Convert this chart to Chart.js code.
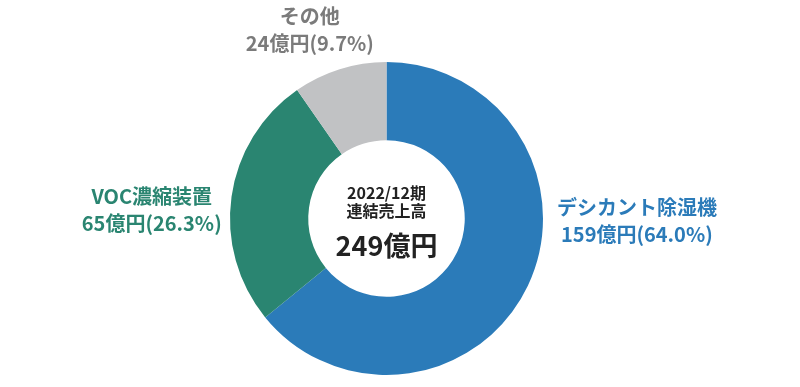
<!DOCTYPE html>
<html>
<head>
<meta charset="utf-8">
<script src="https://cdn.jsdelivr.net/npm/chart.js@4"></script>
<style>
  body { margin: 0; background: #fff; }
  #wrap { width: 800px; height: 387px; position: relative; }
</style>
</head>
<body>
<div id="wrap"><canvas id="salesChart"></canvas></div>
<script>
// 2022/12期 連結売上高 (億円)
const segments = ["デシカント除湿機", "VOC濃縮装置", "その他"];
const amounts = [159, 65, 24];
const shares = ["64.0", "26.3", "9.7"];
const colors = ["#2b7bb9", "#2a8571", "#c1c2c4"];
const labelColors = ["#2b7bb9", "#2a8571", "#7b7b7b"];
const totalLabel = ["2022/12期", "連結売上高", "249億円"];

const FONT = "'Noto Sans CJK JP', 'Noto Sans', sans-serif";

// ラベル位置 (中心からの相対位置, 半径単位)
const labelOffsets = [
    { dx: 1.60, dy: 0.01 },
    { dx: -1.50, dy: -0.06 },
    { dx: -0.49, dy: -1.21 }
];

const textPlugin = {
    id: "textPlugin",
    afterDraw(chart) {
        const ctx = chart.ctx;
        const arc = chart.getDatasetMeta(0).data[0];
        const cx = arc.x, cy = arc.y, r = arc.outerRadius;

        ctx.save();
        ctx.textAlign = "center";
        ctx.textBaseline = "middle";

        // 中央テキスト
        ctx.fillStyle = "#222";
        ctx.font = "bold 16px " + FONT;
        ctx.fillText(totalLabel[0], cx, cy - 26);
        ctx.fillText(totalLabel[1], cx, cy - 8);
        ctx.font = "bold 27px " + FONT;
        ctx.fillText(totalLabel[2], cx, cy + 27);

        // 各セグメントのラベル
        segments.forEach((name, i) => {
            const x = cx + labelOffsets[i].dx * r;
            const y = cy + labelOffsets[i].dy * r;
            ctx.fillStyle = labelColors[i];
            ctx.font = "bold 20px " + FONT;
            ctx.fillText(name, x, y - 13);
            ctx.fillText(amounts[i] + "億円(" + shares[i] + "%)", x, y + 14);
        });
        ctx.restore();
    }
};

new Chart(document.getElementById("salesChart"), {
    type: "doughnut",
    data: {
        labels: segments,
        datasets: [{
            data: amounts,
            backgroundColor: colors,
            borderWidth: 0
        }]
    },
    options: {
        responsive: true,
        maintainAspectRatio: false,
        animation: false,
        cutout: "50%",
        layout: { padding: { left: 230, right: 257, top: 62, bottom: 12 } },
        plugins: {
            legend: { display: false },
            tooltip: { enabled: false }
        }
    },
    plugins: [textPlugin]
});
</script>
</body>
</html>
